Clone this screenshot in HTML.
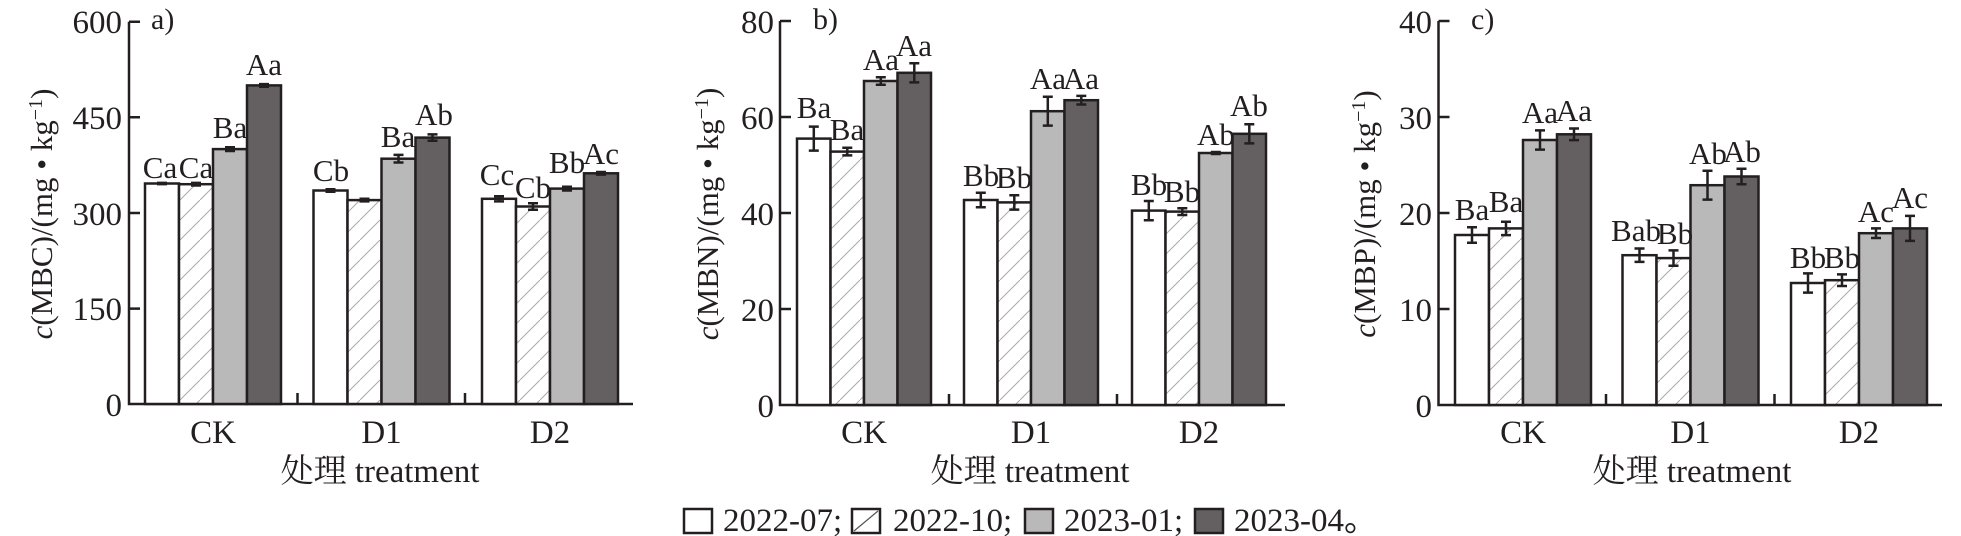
<!DOCTYPE html>
<html><head><meta charset="utf-8"><style>
html,body{margin:0;padding:0;background:#fff;}
svg{display:block;font-family:"Liberation Serif","Noto Serif CJK SC",serif;}
</style></head><body>
<svg width="1961" height="536" viewBox="0 0 1961 536" xmlns="http://www.w3.org/2000/svg">
<defs>
<pattern id="h" patternUnits="userSpaceOnUse" width="20" height="20">
<rect width="20" height="20" fill="#fff"/>
<path d="M-2,22 L22,-2" stroke="#aaa" stroke-width="1"/>
</pattern>
</defs>
<g font-size="33" fill="#231f20" text-anchor="end">
<text x="122" y="33">600</text><text x="122" y="129">450</text><text x="122" y="225">300</text><text x="122" y="320">150</text><text x="122" y="416">0</text>
<text x="774" y="33">80</text><text x="774" y="129">60</text><text x="774" y="225">40</text><text x="774" y="321">20</text><text x="774" y="417">0</text>
<text x="1432" y="33">40</text><text x="1432" y="129">30</text><text x="1432" y="225">20</text><text x="1432" y="321">10</text><text x="1432" y="417">0</text>
</g>
<g stroke="#231f20" stroke-width="2.5" fill="none">
<path d="M129,21.7 V404 H633 M129,21.7 h11 M129,117.3 h11 M129,213 h11 M129,308.6 h11 M297.5,393 V404 M465,393 V404"/>
<path d="M780,21 V405 H1285 M780,21 h11 M780,117 h11 M780,213 h11 M780,309 h11 M949,394 V405 M1117,394 V405"/>
<path d="M1438.5,21 V405 H1942 M1438.5,21 h11 M1438.5,117 h11 M1438.5,213 h11 M1438.5,309 h11 M1606,394 V405 M1774.5,394 V405"/>
</g>
<g font-size="30" fill="#231f20">
<text x="151" y="29">a)</text><text x="813" y="29">b)</text><text x="1471" y="29">c)</text>
</g>
<g stroke="#231f20" stroke-width="2.5">
<rect x="145" y="183.5" width="34" height="220.5" fill="#fff"/>
<rect x="179" y="184.2" width="34" height="219.8" fill="url(#h)"/>
<rect x="213" y="149.1" width="34" height="254.9" fill="#bab9ba"/>
<rect x="247" y="85.4" width="34" height="318.6" fill="#646061"/>
<rect x="313.5" y="190.5" width="34" height="213.5" fill="#fff"/>
<rect x="347.5" y="200.1" width="34" height="203.9" fill="url(#h)"/>
<rect x="381.5" y="158.7" width="34" height="245.3" fill="#bab9ba"/>
<rect x="415.5" y="137.6" width="34" height="266.4" fill="#646061"/>
<rect x="482" y="198.8" width="34" height="205.2" fill="#fff"/>
<rect x="516" y="206.5" width="34" height="197.5" fill="url(#h)"/>
<rect x="550" y="188.6" width="34" height="215.4" fill="#bab9ba"/>
<rect x="584" y="173.3" width="34" height="230.7" fill="#646061"/>
<rect x="797" y="138.6" width="33.5" height="266.4" fill="#fff"/>
<rect x="830.5" y="151.6" width="33.5" height="253.4" fill="url(#h)"/>
<rect x="864" y="81" width="33.5" height="324" fill="#bab9ba"/>
<rect x="897.5" y="72.8" width="33.5" height="332.2" fill="#646061"/>
<rect x="964" y="200" width="33.5" height="205" fill="#fff"/>
<rect x="997.5" y="202.4" width="33.5" height="202.6" fill="url(#h)"/>
<rect x="1031" y="111.2" width="33.5" height="293.8" fill="#bab9ba"/>
<rect x="1064.5" y="100.2" width="33.5" height="304.8" fill="#646061"/>
<rect x="1132" y="210.6" width="33.5" height="194.4" fill="#fff"/>
<rect x="1165.5" y="211.6" width="33.5" height="193.4" fill="url(#h)"/>
<rect x="1199" y="153" width="33.5" height="252" fill="#bab9ba"/>
<rect x="1232.5" y="133.8" width="33.5" height="271.2" fill="#646061"/>
<rect x="1455" y="235" width="34" height="170" fill="#fff"/>
<rect x="1489" y="228.4" width="34" height="176.6" fill="url(#h)"/>
<rect x="1523" y="140" width="34" height="265" fill="#bab9ba"/>
<rect x="1557" y="134.3" width="34" height="270.7" fill="#646061"/>
<rect x="1622.5" y="255.2" width="34" height="149.8" fill="#fff"/>
<rect x="1656.5" y="258.1" width="34" height="146.9" fill="url(#h)"/>
<rect x="1690.5" y="185.2" width="34" height="219.8" fill="#bab9ba"/>
<rect x="1724.5" y="176.5" width="34" height="228.5" fill="#646061"/>
<rect x="1791" y="283" width="34" height="122" fill="#fff"/>
<rect x="1825" y="280.2" width="34" height="124.8" fill="url(#h)"/>
<rect x="1859" y="233.2" width="34" height="171.8" fill="#bab9ba"/>
<rect x="1893" y="228.4" width="34" height="176.6" fill="#646061"/>
</g>
<g stroke="#231f20" stroke-width="2.5" fill="none">
<path d="M162,182.9v1.2M157,182.9h10M157,184.1h10 M196,182.9v2.6M191,182.9h10M191,185.5h10 M230,147.2v3.8M225,147.2h10M225,151h10 M264,84.1v2.6M259,84.1h10M259,86.7h10"/>
<path d="M330.5,189.2v2.6M325.5,189.2h10M325.5,191.8h10 M364.5,198.8v2.6M359.5,198.8h10M359.5,201.4h10 M398.5,154.9v7.6M393.5,154.9h10M393.5,162.5h10 M432.5,134.4v6.4M427.5,134.4h10M427.5,140.8h10"/>
<path d="M499,196.2v5.2M494,196.2h10M494,201.4h10 M533,203.3v6.4M528,203.3h10M528,209.7h10 M567,186.7v3.8M562,186.7h10M562,190.5h10 M601,172v2.6M596,172h10M596,174.6h10"/>
<path d="M813.8,126.6v24M808.8,126.6h10M808.8,150.6h10 M847.3,147.8v7.6M842.3,147.8h10M842.3,155.4h10 M880.8,77.2v7.6M875.8,77.2h10M875.8,84.8h10 M914.3,63.2v19.2M909.3,63.2h10M909.3,82.4h10"/>
<path d="M980.8,192.8v14.4M975.8,192.8h10M975.8,207.2h10 M1014.3,195.2v14.4M1009.3,195.2h10M1009.3,209.6h10 M1047.8,96.8v28.8M1042.8,96.8h10M1042.8,125.6h10 M1081.3,95.9v8.6M1076.3,95.9h10M1076.3,104.5h10"/>
<path d="M1148.8,201v19.2M1143.8,201h10M1143.8,220.2h10 M1182.3,208.2v6.8M1177.3,208.2h10M1177.3,215h10 M1215.8,152v2M1210.8,152h10M1210.8,154h10 M1249.3,124.2v19.2M1244.3,124.2h10M1244.3,143.4h10"/>
<path d="M1472,227.3v15.4M1467,227.3h10M1467,242.7h10 M1506,221.7v13.4M1501,221.7h10M1501,235.1h10 M1540,130.4v19.2M1535,130.4h10M1535,149.6h10 M1574,128.5v11.6M1569,128.5h10M1569,140.1h10"/>
<path d="M1639.5,248.5v13.4M1634.5,248.5h10M1634.5,261.9h10 M1673.5,250.4v15.4M1668.5,250.4h10M1668.5,265.8h10 M1707.5,170.8v28.8M1702.5,170.8h10M1702.5,199.6h10 M1741.5,168.8v15.4M1736.5,168.8h10M1736.5,184.2h10"/>
<path d="M1808,273.4v19.2M1803,273.4h10M1803,292.6h10 M1842,274.4v11.6M1837,274.4h10M1837,286h10 M1876,228.4v9.6M1871,228.4h10M1871,238h10 M1910,215.9v25M1905,215.9h10M1905,240.9h10"/>
</g>
<g font-size="31" fill="#231f20" text-anchor="middle">
<text x="160" y="178">Ca</text><text x="196" y="178">Ca</text><text x="230" y="138">Ba</text><text x="264" y="75">Aa</text>
<text x="331" y="181">Cb</text><text x="398" y="147">Ba</text><text x="434" y="125">Ab</text>
<text x="497" y="185">Cc</text><text x="533" y="198">Cb</text><text x="567" y="173">Bb</text><text x="601" y="164">Ac</text>
<text x="814" y="118">Ba</text><text x="847" y="140">Ba</text><text x="881" y="70">Aa</text><text x="914" y="56">Aa</text>
<text x="981" y="186">Bb</text><text x="1014" y="188">Bb</text><text x="1048" y="89">Aa</text><text x="1081" y="89">Aa</text>
<text x="1149" y="195">Bb</text><text x="1182" y="202">Bb</text><text x="1216" y="145">Ab</text><text x="1249" y="116">Ab</text>
<text x="1472" y="220">Ba</text><text x="1506" y="212">Ba</text><text x="1540" y="123">Aa</text><text x="1574" y="121">Aa</text>
<text x="1636" y="241">Bab</text><text x="1675" y="244">Bb</text><text x="1708" y="164">Ab</text><text x="1742" y="162">Ab</text>
<text x="1808" y="268">Bb</text><text x="1842" y="268">Bb</text><text x="1876" y="222">Ac</text><text x="1910" y="208">Ac</text>
</g>
<g font-size="33" fill="#231f20" text-anchor="middle">
<text x="213" y="443">CK</text><text x="381.5" y="443">D1</text><text x="550" y="443">D2</text>
<text x="864" y="443">CK</text><text x="1031" y="443">D1</text><text x="1199" y="443">D2</text>
<text x="1523" y="443">CK</text><text x="1690.5" y="443">D1</text><text x="1859" y="443">D2</text>
<text x="380" y="482">处理 treatment</text>
<text x="1030" y="482">处理 treatment</text>
<text x="1692" y="482">处理 treatment</text>
</g>
<g font-size="31" fill="#231f20" text-anchor="middle">
<text transform="translate(52,214) rotate(-90)"><tspan font-style="italic">c</tspan>(MBC)/(mg • kg<tspan dy="-10" font-size="20">−1</tspan><tspan dy="10">)</tspan></text>
<text transform="translate(718,214) rotate(-90)"><tspan font-style="italic">c</tspan>(MBN)/(mg • kg<tspan dy="-10" font-size="20">−1</tspan><tspan dy="10">)</tspan></text>
<text transform="translate(1375,214) rotate(-90)"><tspan font-style="italic">c</tspan>(MBP)/(mg • kg<tspan dy="-10" font-size="20">−1</tspan><tspan dy="10">)</tspan></text>
</g>
<g stroke="#231f20" stroke-width="2.5">
<rect x="684" y="509" width="28" height="24" fill="#fff"/>
<rect x="852" y="509" width="28" height="24" fill="#fff"/>
<path d="M854,531 L878,511" stroke="#555" stroke-width="1.2"/>
<rect x="1025" y="509" width="28" height="24" fill="#bab9ba"/>
<rect x="1195" y="509" width="28" height="24" fill="#646061"/>
</g>
<g font-size="33" fill="#231f20">
<text x="723" y="531">2022-07;</text>
<text x="893" y="531">2022-10;</text>
<text x="1064" y="531">2023-01;</text>
<text x="1234" y="531">2023-04<tspan font-family="Noto Sans CJK SC, sans-serif">。</tspan></text>
</g>
</svg>
</body></html>
